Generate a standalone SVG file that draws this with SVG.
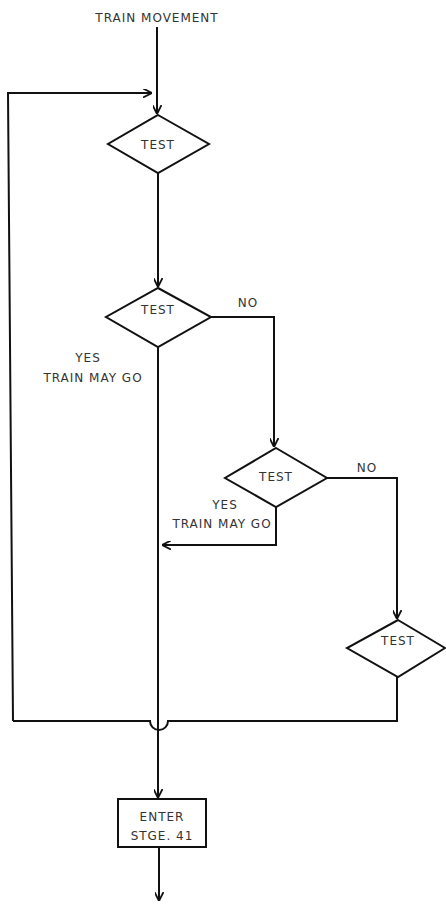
<svg xmlns="http://www.w3.org/2000/svg" width="446" height="911" viewBox="0 0 446 911">
<style>
.s{fill:none;stroke:#111;stroke-width:2;stroke-linejoin:miter}
.n{fill:#fff;stroke:#111;stroke-width:2}
.t{font-family:"DejaVu Sans","Liberation Sans",sans-serif;font-size:12px;fill:#333;letter-spacing:1px;text-anchor:middle}
</style>
<defs>
<marker id="a" viewBox="0 0 10 10" refX="10" refY="5" markerWidth="9" markerHeight="9" markerUnits="userSpaceOnUse" orient="auto">
<path d="M0,0 L10,5 L0,10" fill="none" stroke="#111" stroke-width="2"/>
</marker>
</defs>
<rect width="446" height="911" fill="#fff"/>
<g id="connectors">
<path class="s" d="M157,27 V114" marker-end="url(#a)"/>
<path class="s" d="M13,721 L8,93 H152" marker-end="url(#a)"/>
<path class="s" d="M158,173 V287" marker-end="url(#a)"/>
<path class="s" d="M211,317 H274 V447" marker-end="url(#a)"/>
<path class="s" d="M327,478 H397 V619" marker-end="url(#a)"/>
<path class="s" d="M276,507 V545 H162" marker-end="url(#a)"/>
<path class="s" d="M158,347 V798" marker-end="url(#a)"/>
<path class="s" d="M13,721 H150 A9,9 0 0 0 168,721 H397 V677"/>
<path class="s" d="M159,847 V901" marker-end="url(#a)"/>
</g>
<g id="start"><text class="t" x="157" y="22">TRAIN MOVEMENT</text></g>
<g id="test1"><polygon class="n" points="158,115 209,144 158,173 108,144"/><text class="t" x="158" y="149">TEST</text></g>
<g id="test2"><polygon class="n" points="158,288 211,317 158,347 106,317"/><text class="t" x="158" y="314">TEST</text><text class="t" x="248" y="307">NO</text></g>
<g id="yes1"><text class="t" x="88" y="362">YES</text><text class="t" x="93" y="382">TRAIN MAY GO</text></g>
<g id="test3"><polygon class="n" points="276,448 327,478 276,507 225,478"/><text class="t" x="276" y="481">TEST</text><text class="t" x="367" y="472">NO</text></g>
<g id="yes2"><text class="t" x="225" y="509">YES</text><text class="t" x="222" y="528">TRAIN MAY GO</text></g>
<g id="test4"><polygon class="n" points="398,620 445,648 398,677 347,648"/><text class="t" x="398" y="645">TEST</text></g>
<g id="enter"><rect class="n" x="118" y="799" width="88" height="48"/><text class="t" x="162" y="821">ENTER</text><text class="t" x="162" y="840">STGE. 41</text></g>
</svg>
